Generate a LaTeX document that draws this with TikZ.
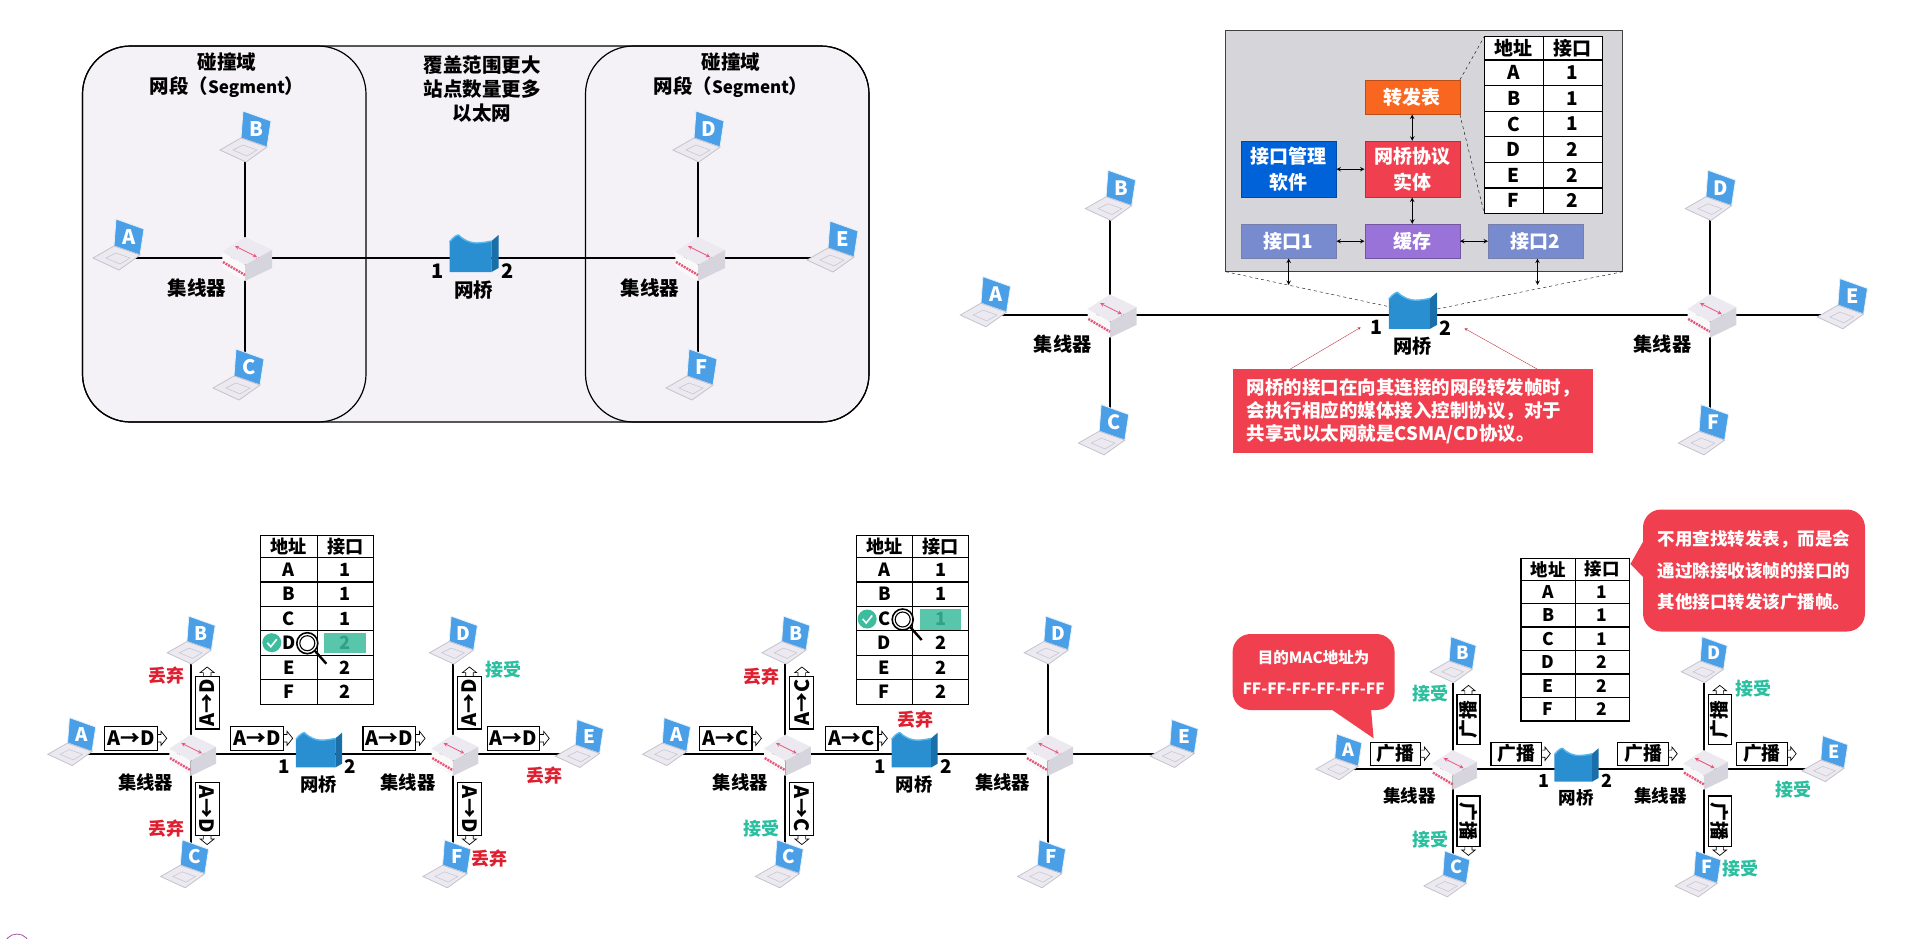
\documentclass[tikz,border=0pt]{standalone}
\usepackage{fontspec}
\setmainfont{Noto Sans CJK SC}
\usetikzlibrary{backgrounds}

\definecolor{panelgrey}{HTML}{F4F2F6}
\definecolor{boxgrey}{HTML}{D6D5DA}
\definecolor{screenblue}{HTML}{4A9FE6}
\definecolor{keygrey}{HTML}{ECEAF0}
\definecolor{edgegrey}{HTML}{C4C2CC}
\definecolor{bridgeblue}{HTML}{2A8FD0}
\definecolor{bridgedark}{HTML}{1B6FA8}
\definecolor{bridgerim}{HTML}{58B8EC}
\definecolor{hubpink}{HTML}{E8557A}
\definecolor{notered}{HTML}{F0404F}
\definecolor{dropred}{HTML}{DE1F30}
\definecolor{taketeal}{HTML}{2BBFA0}
\definecolor{marktea}{HTML}{3DBD9E}

\newcommand{\fs}[1]{\fontsize{#1}{#1}\selectfont\bfseries}

\tikzset{
  link/.style={line width=2pt},
  laptop/.pic={
    \fill[screenblue,draw=white!85!screenblue,line width=.8pt] (-12,-18) -- (16,-8) -- (12,18) -- (-14,9) -- cycle;
    \fill[keygrey,draw=edgegrey,line width=.8pt] (-14,9) -- (12,18) -- (-9,33) -- (-35,21) -- cycle;
    \draw[edgegrey,line width=.5pt] (-12,16) -- (2,21) -- (-8,27) -- (-22,21) -- cycle;
    \node[text=white,font=\fs{20}] (-l) at (1,0) {#1};
    \coordinate (-c) at (0,0);
    \coordinate (-s) at (0,33);
  },
  hubbox/.pic={
    \fill[keygrey] (-23,-6) -- (0,-21) -- (27,-8) -- (0,7) -- cycle;
    \fill[white!90!edgegrey] (-23,-6) -- (0,7) -- (0,23) -- (-22,10) -- cycle;
    \fill[edgegrey!55!keygrey] (27,-8) -- (0,7) -- (0,23) -- (27,10) -- cycle;
    \draw[hubpink,<->,line width=.8pt] (-10,-12) -- (12,-1);
    \draw[hubpink,line width=2.4pt,dash pattern=on 2pt off 1pt] (-22,4) -- (0,17);
    \coordinate (-c) at (0,0);
  },
  bridgebox/.pic={
    \fill[bridgeblue] (-24,-16) .. controls (-20,-21) and (-17,-23) .. (-15,-23) .. controls (-9,-17) and (-2,-15) .. (3,-15) .. controls (8,-15) and (14,-16) .. (18,-17) -- (18,14) -- (-24,14) -- cycle;
    \fill[bridgedark] (18,-17) -- (25,-23) -- (25,10) -- (18,14) -- cycle;
    \draw[bridgerim,line width=1.4pt] (-24,-16) .. controls (-20,-21) and (-17,-23) .. (-15,-23) .. controls (-9,-17) and (-2,-15) .. (3,-15) .. controls (8,-15) and (14,-16) .. (18,-17);
    \coordinate (-c) at (0,0);
  },
  frametag/.pic={
    \draw[fill=white,line width=.7pt] (28,-4) -- (32,-4) -- (32,-7.5) -- (38,0) -- (32,7.5) -- (32,4) -- (28,4);
    \node[draw,fill=white,line width=1.2pt,minimum width=56pt,minimum height=25.5pt,inner sep=0pt,font=\fs{21}] (-b) at (0,0) {#1};
  },
  cell/.style={inner sep=0pt,font=\fs{19}},
  part/.style={draw=#1!75!black,fill=#1,text=white,minimum width=95pt,inner sep=0pt,align=center,font=\fontsize{19}{26}\selectfont\bfseries},
  plain/.style={font=\fontsize{19.5}{24}\selectfont\bfseries,align=center,inner sep=0pt},
  unit/.style={font=\fs{19.5},inner sep=0pt},
  drop/.style={text=dropred,font=\fs{18},inner sep=0pt},
  take/.style={text=taketeal,font=\fs{18},inner sep=0pt},
  note/.style={fill=notered,text=white,inner sep=0pt,align=left},
}

\begin{document}
\begin{tikzpicture}[x=1pt,y=-1pt,>=stealth]
  \useasboundingbox (0,0) rectangle (1912,938);

  % first picture: the two segments
  \begin{pgfonlayer}{background}
    \draw[fill=panelgrey,line width=1.2pt,rounded corners=48pt] (82.5,46) rectangle (869,422);
    \draw[line width=1.2pt,rounded corners=48pt] (82.5,46) rectangle (366,422);
    \draw[line width=1.2pt,rounded corners=48pt] (585.5,46) rectangle (869,422);
  \end{pgfonlayer}
  \node[plain] (seg1) at (227,74.7) {碰撞域\\网段（{\fontsize{17}{24}\selectfont Segment}）};
  \node[plain] (seg2) at (731,74.7) {碰撞域\\网段（{\fontsize{17}{24}\selectfont Segment}）};
  \node[plain] (cover) at (482,89) {覆盖范围更大\\站点数量更多\\以太网};

  % the same network in every picture
  \foreach \p/\hx/\hy/\s/\d/\bx in {a/245/258/1/453/228.5,b/1110/315/.985/609/307,c/190.7/754.3/.94/279/136,d/785.4/754.3/.94/279/137,e/1452.7/769/.9/279/137}{
    \begin{scope}[shift={(\hx,\hy)},scale=\s,transform shape]
      \pic (\p-A) at (-117,-21) {laptop=A};
      \pic (\p-B) at (10,-129) {laptop=B};
      \pic (\p-C) at (3,109) {laptop=C};
      \pic (\p-D) at ({\d+10},-129) {laptop=D};
      \pic (\p-E) at ({\d+144},-19) {laptop=E};
      \pic (\p-F) at ({\d+3},109) {laptop=F};
      \pic (\p-l) at (0,0) {hubbox};
      \pic (\p-r) at (\d,0) {hubbox};
      \pic (\p-m) at (\bx,0) {bridgebox};
      \node[unit] (\p-nl) at (-48,30) {集线器};
      \node[unit] (\p-nr) at ({\d-48},30) {集线器};
      \node[unit] (\p-nm) at (\bx,32) {网桥};
      \node[font=\fs{20},inner sep=0pt] (\p-one) at ({\bx-36},13) {1};
      \node[font=\fs{20},inner sep=0pt] (\p-two) at ({\bx+34},13) {2};
    \end{scope}
    \begin{pgfonlayer}{background}
      \draw[link] (\p-A-c |- \p-l-c) -- (\p-l-c) -- (\p-m-c) -- (\p-r-c) -- (\p-E-c |- \p-r-c);
      \draw[link] (\p-l-c |- \p-B-s) -- (\p-l-c) -- (\p-l-c |- \p-C-c);
      \draw[link] (\p-r-c |- \p-D-s) -- (\p-r-c) -- (\p-r-c |- \p-F-c);
    \end{pgfonlayer}
  }

  % the forwarding tables
  \foreach \p/\tx/\ty/\s in {b/1484.2/36.7/1,c/260.8/535.3/.955,d/856.2/535.3/.955,e/1521/558.7/.917}{
    \begin{scope}[shift={(\tx,\ty)},scale=\s,transform shape]
      \draw[fill=white,line width=1.1pt] (0,0) rectangle (118,177);
      \draw[line width=1.1pt] (59,0) -- (59,177);
      \foreach \i in {0,...,5}
        \draw[line width=1.1pt] (0,{23.3+25.6*\i}) -- (118,{23.3+25.6*\i});
      \node[cell] (\p-ha) at (29.5,11.6) {地址};
      \node[cell] (\p-hn) at (88.5,11.6) {接口};
      \foreach \a/\n [count=\i from 0] in {A/1,B/1,C/1,D/2,E/2,F/2}{
        \node[cell] (\p-a\i) at (29.5,{36.1+25.6*\i}) {\a};
        \node[cell] (\p-n\i) at (88.5,{36.1+25.6*\i}) {\n};
      }
    \end{scope}
  }

  % table lookup marks
  \foreach \tx/\ty in {260.8/632.7,856.2/609}{
    \begin{scope}[shift={(\tx,\ty)}]
      \fill[marktea,opacity=.85] (63.3,0) rectangle (105,20.5);
      \fill[marktea] (11,10) circle (9.5);
      \draw[white,line width=1.6pt] (6.5,10) -- (10,14) -- (16,6.5);
      \draw[line width=1.6pt] (46.5,10.5) circle (10.5);
      \draw[line width=1.1pt] (46.5,10.5) circle (7.5);
      \draw[line width=2.4pt] (54,18) -- (65.5,31);
    \end{scope}
  }

  % inside the bridge
  \begin{pgfonlayer}{background}
    \draw[fill=boxgrey,draw=black!75,line width=1.2pt] (1225.8,30.7) rectangle (1622.7,271.7);
  \end{pgfonlayer}
  \node[part=orange!60!notered,minimum height=34.3pt] (fwd) at (1412.2,97.2) {转发表};
  \node[part=notered,minimum height=56.3pt] (ent) at (1412.2,169.2) {网桥协议\\实体};
  \node[part=blue!55!cyan!85!black,minimum height=56.3pt] (mgr) at (1288.7,169.2) {接口管理\\软件};
  \node[part=violet!55!blue!55!white,minimum height=34.3pt] (buf) at (1412.2,241.2) {缓存};
  \node[part=cyan!30!blue!55!white,minimum height=34.3pt] (if1) at (1288.7,241.2) {接口1};
  \node[part=cyan!30!blue!55!white,minimum height=34.3pt] (if2) at (1535.7,241.2) {接口2};
  \draw[<->,line width=1pt] (fwd) -- (ent);
  \draw[<->,line width=1pt] (ent) -- (buf);
  \draw[<->,line width=1pt] (mgr) -- (ent);
  \draw[<->,line width=1pt] (if1) -- (buf);
  \draw[<->,line width=1pt] (buf) -- (if2);
  \coordinate (down1) at (1288.7,285);
  \coordinate (down2) at (1537.5,285);
  \draw[<->,line width=1pt] (if1.south) -- (down1);
  \draw[<->,line width=1pt] (if2.south -| down2) -- (down2);
  \coordinate (corner1) at (1225.8,271.7);
  \coordinate (corner2) at (1622.7,271.7);
  \draw[dashed] (corner1) -- (1390.6,307);
  \draw[dashed] (corner2) -- (1436.8,309);
  \draw[dashed] (fwd.north east) -- (1484.2,36.7);
  \draw[dashed] (fwd.south east) -- (1484.2,213.3);

  % notes
  \node[note,minimum width=360pt,minimum height=84pt,font=\fontsize{18.5}{23}\selectfont\bfseries] (note1) at (1413.2,411.3) {网桥的接口在向其连接的网段转发帧时，\\会执行相应的媒体接入控制协议，对于\\共享式以太网就是CSMA/CD协议。};
  \coordinate (tip1) at (1360.7,327.3);
  \coordinate (tip2) at (1464.4,328.3);
  \draw[->,notered!80!black] ([xshift=-123pt]note1.north) -- (tip1);
  \draw[->,notered!80!black] ([xshift=124pt]note1.north) -- (tip2);

  \node[note,rounded corners=18pt,minimum width=162pt,minimum height=76pt,align=center,font=\fontsize{15.5}{31}\selectfont\bfseries] (note2) at (1313.6,672) {目的MAC地址为\\FF-FF-FF-FF-FF-FF};
  \fill[notered] (1325,705) -- (1373.6,738.3) -- (1370.7,705) -- cycle;
  \node[note,rounded corners=18pt,minimum width=222pt,minimum height=122pt,align=center,font=\fontsize{17.5}{31.5}\selectfont\bfseries] (note3) at (1754,570.5) {不用查找转发表，而是会\\通过除接收该帧的接口的\\其他接口转发该广播帧。};
  \fill[notered] (1648,533) -- (1630.4,564) -- (1648,582) -- cycle;

  % frames on the wires
  \foreach \t/\hx/\hy/\s/\lab/\ha/\hb in {c1/190.7/754.3/.94/A→D/-63.5/70.5,c2/453/754.3/.94/A→D/-67.7/64.4,d1/785.4/754.3/.94/A→C/-63.5/70.5,e1/1452.7/769/.9/广播/-63.5/70.5,e2/1704/769/.9/广播/-67.7/64.4}{
    \begin{scope}[shift={(\hx,\hy)},scale=\s,transform shape]
      \foreach \x/\y/\r [count=\i] in {\ha/-17/0,\hb/-17/0,17.5/-54.9/90,17.5/58/-90}
        \pic[rotate=\r] (\t-\i) at (\x,\y) {frametag=\lab};
    \end{scope}
  }

  % what each station does
  \foreach \i/\x/\y/\st/\txt in {1/166.6/676/drop/丢弃,2/166.6/828.7/drop/丢弃,3/503.4/670/take/接受,4/544.7/776/drop/丢弃,5/489.2/858.3/drop/丢弃,
    6/761.7/676.7/drop/丢弃,7/915.5/720/drop/丢弃,8/761/828.3/take/接受,
    9/1430.4/693.3/take/接受,10/1430.4/840/take/接受,11/1753.7/688.3/take/接受,12/1793.2/789.3/take/接受,13/1740.6/869/take/接受}
    \node[\st] (act\i) at (\x,\y) {\txt};

  % cut off at the lower edge
  \draw[violet!70!white,line width=.8pt] (17,947) circle (13);
\end{tikzpicture}
\end{document}
